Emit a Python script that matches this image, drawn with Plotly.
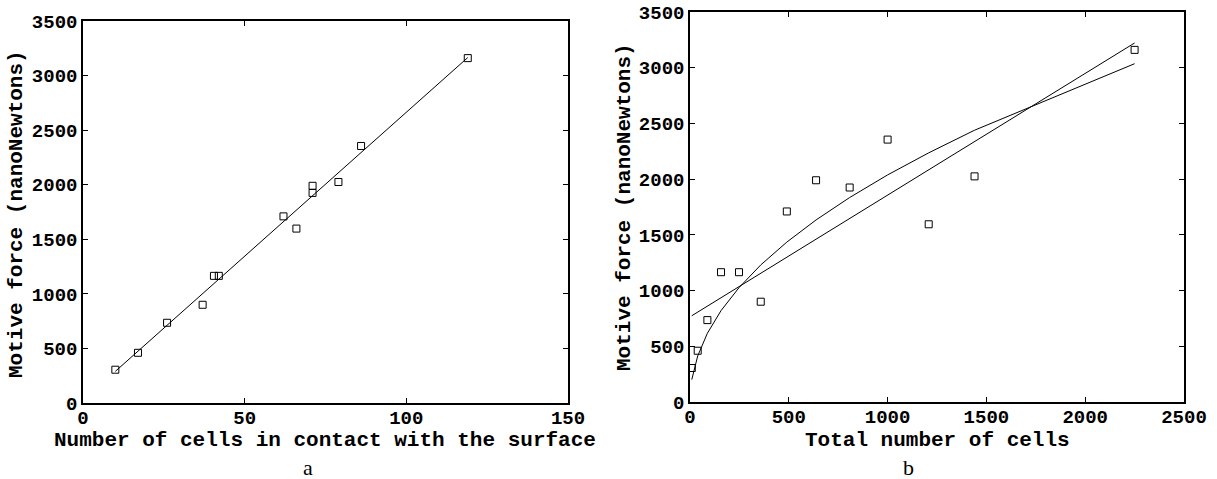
import plotly.graph_objects as go

# ---- data ----
# panel a: cells in contact with the surface vs motive force
contact_cells = [10, 17, 26, 37, 40.5, 42, 62, 66, 71, 71, 79, 86, 119]
force_a = [305, 460, 735, 900, 1165, 1165, 1710, 1598, 1990, 1925, 2025, 2355, 3160]
fit_a_x = [10, 119]
fit_a_y = [290, 3165]

# panel b: total number of cells vs motive force
total_cells = [9, 39, 88, 157, 248, 358, 490, 638, 808, 1000, 1208, 1440, 2250]
force_b = [305, 460, 735, 1165, 1165, 900, 1710, 1990, 1925, 2355, 1595, 2025, 3160]
lin_b_x = [9, 2250]
lin_b_y = [774, 3222]
pow_b_x = [9, 39, 88, 157, 248, 358, 490, 638, 808, 1000, 1208, 1440, 2250]
pow_b_y = [201, 413, 617, 820, 1026, 1230, 1435, 1634, 1835, 2038, 2236, 2439, 3036]

x_a_ticks = [0, 50, 100, 150]
x_b_ticks = [0, 500, 1000, 1500, 2000, 2500]
y_ticks = [0, 500, 1000, 1500, 2000, 2500, 3000, 3500]

x_a_title = "Number of cells in contact with the surface"
x_b_title = "Total number of cells"
y_title = "Motive force (nanoNewtons)"

W, H = 1217, 479
mono = "Liberation Mono"

fig = go.Figure()

marker = dict(symbol="square-open", size=7, color="black", line=dict(width=1, color="black"))
fig.add_trace(go.Scatter(x=fit_a_x, y=fit_a_y, mode="lines", line=dict(color="black", width=1),
                         xaxis="x", yaxis="y", showlegend=False, hoverinfo="skip"))
fig.add_trace(go.Scatter(x=contact_cells, y=force_a, mode="markers", marker=marker,
                         xaxis="x", yaxis="y", showlegend=False))
fig.add_trace(go.Scatter(x=lin_b_x, y=lin_b_y, mode="lines", line=dict(color="black", width=1),
                         xaxis="x2", yaxis="y2", showlegend=False, hoverinfo="skip"))
fig.add_trace(go.Scatter(x=pow_b_x, y=pow_b_y, mode="lines", line=dict(color="black", width=1),
                         xaxis="x2", yaxis="y2", showlegend=False, hoverinfo="skip"))
fig.add_trace(go.Scatter(x=total_cells, y=force_b, mode="markers", marker=marker,
                         xaxis="x2", yaxis="y2", showlegend=False))

tickfont = dict(family=mono, size=19, color="black", weight="bold")
common = dict(showgrid=False, zeroline=False, showline=True, linecolor="black", linewidth=1.5,
              mirror="ticks", ticks="inside", ticklen=5, tickwidth=1, tickcolor="black",
              tickfont=tickfont, automargin=False)

fig.update_layout(
    template="none",
    width=W, height=H,
    margin=dict(l=0, r=0, t=0, b=0, pad=0, autoexpand=False),
    paper_bgcolor="white", plot_bgcolor="white",
    xaxis=dict(domain=[83 / W, 568 / W], range=[0, 150], tickvals=x_a_ticks, anchor="y",
               ticklabelstandoff=-4, **common),
    yaxis=dict(domain=[(H - 403) / H, (H - 21) / H], range=[0, 3500], tickvals=y_ticks, anchor="x", **common),
    xaxis2=dict(domain=[690 / W, 1184 / W], range=[0, 2500], tickvals=x_b_ticks, anchor="y2",
                ticklabelstandoff=-4, **common),
    yaxis2=dict(domain=[(H - 402) / H, (H - 12) / H], range=[0, 3500], tickvals=y_ticks, anchor="x2", **common),
)

titlefont = dict(family=mono, size=21, color="black", weight="bold")
ann = [
    dict(text=x_a_title, x=325 / W, y=(H - 440) / H, xref="paper", yref="paper",
         showarrow=False, font=titlefont, xanchor="center", yanchor="middle"),
    dict(text=x_b_title, x=937 / W, y=(H - 440) / H, xref="paper", yref="paper",
         showarrow=False, font=titlefont, xanchor="center", yanchor="middle"),
    dict(text=y_title, x=16 / W, y=(H - 214) / H, xref="paper", yref="paper", textangle=-90,
         showarrow=False, font=titlefont, xanchor="center", yanchor="middle"),
    dict(text=y_title, x=624 / W, y=(H - 207) / H, xref="paper", yref="paper", textangle=-90,
         showarrow=False, font=titlefont, xanchor="center", yanchor="middle"),
    dict(text="a", x=308 / W, y=(H - 467) / H, xref="paper", yref="paper",
         showarrow=False, font=dict(family="Liberation Serif", size=22, color="black"),
         xanchor="center", yanchor="middle"),
    dict(text="b", x=908 / W, y=(H - 467) / H, xref="paper", yref="paper",
         showarrow=False, font=dict(family="Liberation Serif", size=22, color="black"),
         xanchor="center", yanchor="middle"),
]
fig.update_layout(annotations=ann)

fig.write_html("out.html")
